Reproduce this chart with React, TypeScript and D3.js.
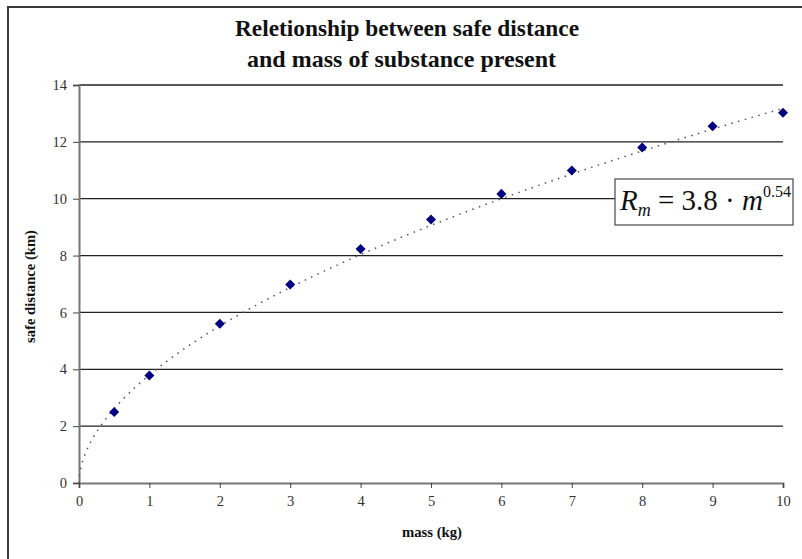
import { useRef, useEffect } from 'react';
import * as d3 from 'd3';

const MASS = [0.5, 1, 2, 3, 4, 5, 6, 7, 8, 9, 10];
const DISTANCE = [2.5, 3.78, 5.6, 6.98, 8.23, 9.27, 10.17, 10.99, 11.8, 12.55, 13.02];
const X_TICKS = [0, 1, 2, 3, 4, 5, 6, 7, 8, 9, 10];
const Y_TICKS = [0, 2, 4, 6, 8, 10, 12, 14];
const TITLE_LINES = ["Reletionship between safe distance", "and mass of substance present"];
const EQ_COEF = "3.8";
const EQ_EXP = "0.54";

const SERIF = "'Liberation Serif', 'Times New Roman', serif";

function PowerChart() {
  const svgRef = useRef<SVGSVGElement>(null);

  useEffect(() => {
    const svg = d3.select(svgRef.current);
    svg.selectAll("*").remove();

    const W = 802, H = 559;
    const margin = { top: 85, right: 19, bottom: 76, left: 79 };
    const width = W - margin.left - margin.right;
    const height = H - margin.top - margin.bottom;

    svg.attr("width", W).attr("height", H);

    // outer chart frame (runs off the right/bottom edges in the original)
    svg.append("rect")
      .attr("x", 8).attr("y", 7)
      .attr("width", 900).attr("height", 700)
      .attr("fill", "#fff").attr("stroke", "#3a3a3a").attr("stroke-width", 2);

    // Title - condensed bold serif
    const titleSpans = [[235, 579], [247, 556]];
    svg.append("g").selectAll("text")
      .data(TITLE_LINES)
      .enter().append("text")
      .attr("x", (d, i) => titleSpans[i][0]).attr("y", (d, i) => 36 + i * 31)
      .attr("textLength", (d, i) => titleSpans[i][1] - titleSpans[i][0])
      .attr("lengthAdjust", "spacingAndGlyphs")
      .attr("font-family", SERIF).attr("font-weight", "bold").attr("font-size", 24)
      .attr("fill", "#111")
      .text(d => d);

    const g = svg.append("g").attr("transform", `translate(${margin.left},${margin.top})`);

    const x = d3.scaleLinear().domain([0, 10]).range([0, width]);
    const y = d3.scaleLinear().domain([0, 14]).range([height, 0]);

    // Gridlines
    g.append("g").selectAll("line")
      .data(Y_TICKS.filter(t => t > 0))
      .enter().append("line")
      .attr("x1", 0).attr("x2", width)
      .attr("y1", d => y(d)).attr("y2", d => y(d))
      .attr("stroke", "#222").attr("stroke-width", 1.3);

    // Y axis
    const yAxis = g.append("g")
      .call(d3.axisLeft(y).tickValues(Y_TICKS).tickSize(6).tickPadding(6))
      .attr("font-family", SERIF).attr("font-size", 14.5);
    yAxis.select(".domain").attr("stroke", "#777").attr("stroke-width", 2);
    yAxis.selectAll(".tick line").attr("stroke", "#444");
    yAxis.selectAll("text").attr("fill", "#333");

    // X axis
    const xAxis = g.append("g")
      .attr("transform", `translate(0,${height})`)
      .call(d3.axisBottom(x).tickValues(X_TICKS).tickSize(5).tickPadding(8))
      .attr("font-family", SERIF).attr("font-size", 14.5);
    xAxis.select(".domain").attr("stroke", "#777").attr("stroke-width", 2);
    xAxis.selectAll(".tick line").attr("stroke", "#444");
    xAxis.selectAll("text").attr("fill", "#333");

    // Axis titles
    svg.append("text")
      .attr("x", 402).attr("y", 537)
      .attr("textLength", 60).attr("lengthAdjust", "spacingAndGlyphs")
      .attr("font-family", SERIF).attr("font-weight", "bold").attr("font-size", 14)
      .attr("fill", "#111")
      .text("mass (kg)");

    svg.append("text")
      .attr("transform", "translate(35,343) rotate(-90)")
      .attr("textLength", 113).attr("lengthAdjust", "spacingAndGlyphs")
      .attr("font-family", SERIF).attr("font-weight", "bold").attr("font-size", 14)
      .attr("fill", "#111")
      .text("safe distance (km)");

    // Power trendline as given by the chart's equation
    const a = +EQ_COEF, b = +EQ_EXP;
    const curve = d3.range(0, 201).map(i => {
      const m = (i / 200) ** 2 * 10;
      return [m, a * Math.pow(m, b)] as [number, number];
    });
    g.append("path")
      .datum(curve)
      .attr("fill", "none")
      .attr("stroke", "#555")
      .attr("stroke-width", 1.5)
      .attr("stroke-dasharray", "1.5,5.5")
      .attr("d", d3.line<[number, number]>().x(d => x(d[0])).y(d => y(d[1])));

    // Data markers
    g.append("g").selectAll("path")
      .data(MASS.map((m, i) => [m, DISTANCE[i]]))
      .enter().append("path")
      .attr("transform", d => `translate(${x(d[0])},${y(d[1])})`)
      .attr("d", d3.symbol(d3.symbolDiamond2, 64)())
      .attr("fill", "#000080");

    // Equation box
    const eq = svg.append("g").attr("transform", "translate(615,179)");
    eq.append("rect")
      .attr("width", 178).attr("height", 46)
      .attr("fill", "#fff").attr("stroke", "#555").attr("stroke-width", 1.3);
    const t = eq.append("text")
      .attr("x", 5).attr("y", 31)
      .attr("font-family", SERIF).attr("font-size", 29).attr("fill", "#111");
    t.append("tspan").attr("font-style", "italic").text("R");
    t.append("tspan").attr("font-style", "italic").attr("font-size", 18).attr("dy", 6).text("m");
    t.append("tspan").attr("dy", -6).text(` = ${EQ_COEF} · `);
    t.append("tspan").attr("font-style", "italic").text("m");
    t.append("tspan").attr("font-size", 16).attr("dy", -13).text(EQ_EXP);
  }, []);

  return <svg ref={svgRef} style={{ display: "block" }}></svg>;
}

export default function App() {
  return (
    <div style={{ position: "fixed", left: 0, top: 0, background: "#fff" }}>
      <PowerChart />
    </div>
  );
}
